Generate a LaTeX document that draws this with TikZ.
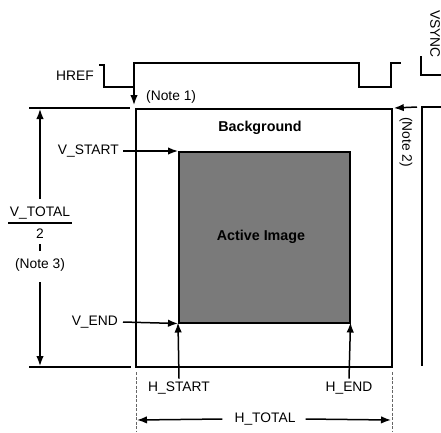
\documentclass[tikz,border=0pt]{standalone}
\usepackage{fontspec}
\setmainfont{Liberation Sans}
\usetikzlibrary{arrows.meta}
\begin{document}
\begin{tikzpicture}[x=1pt,y=-1pt,
  lbl/.style={font=\fontsize{13.8}{15}\selectfont, inner sep=0pt},
  bold/.style={font=\fontsize{14.3}{16}\selectfont\bfseries, inner sep=0pt},
  wire/.style={line width=1.6pt},
  arr/.style={line width=1.5pt, -{Latex[length=10pt,width=7.5pt]}},
  guide/.style={line width=0.8pt, dash pattern=on 3pt off 1.5pt, black!60}]
\useasboundingbox (0,0) rectangle (441,432);
% boxes
\node[draw, line width=1.8pt, minimum width=256pt, minimum height=258pt, inner sep=0pt, anchor=north west] (bg) at (135,108) {};
\node[draw, line width=1.5pt, fill=black!52, minimum width=171pt, minimum height=171pt, inner sep=0pt, anchor=north west] (act) at (178,151) {};
\node[bold] (bglbl) at (260,128) {Background};
\node[bold] (actlbl) at (261,237) {Active Image};
% HREF waveform
\node[lbl, anchor=east] (href) at (94,76) {HREF};
\draw[wire] (99,65) -- (104,65) -- (104,87) -- (134,87) -- (134,63) -- (359,63) -- (359,87) -- (391,87) -- (391,63) -- (401,63);
% VSYNC
\node[lbl, rotate=-90] (vsync) at (435,34) {VSYNC};
\draw[wire] (421,56) -- (421,75) -- (441,75);
\coordinate (vs1) at (441,107);
\draw[wire] (vs1) -- (422,107) -- (422,366);
% Note 1
\coordinate (n1s) at (134,88);
\coordinate (n1e) at (134,105);
\draw[arr] (n1s) -- (n1e);
\node[lbl, anchor=west] (note1) at (146,97) {(Note 1)};
% Note 2
\coordinate (n2s) at (417,107);
\draw[arr] (n2s) -- ([xshift=1pt]bg.north east);
\node[lbl, rotate=-90] (note2) at (406,142) {(Note 2)};
% horizontal extension lines
\coordinate (tl) at (29,108);
\coordinate (tr) at (130,108);
\coordinate (bl) at (29,367);
\coordinate (br) at (131,367);
\draw[wire] (tl) -- (tr);
\draw[wire] (bl) -- (br);
% V_TOTAL
\node[lbl] (vtot) at (40,213) {V\_TOTAL};
\draw[line width=1.1pt] (8,223) -- (72,223);
\node[lbl] (two) at (40,234) {2};
\draw[line width=1.1pt] (40,244) -- (40,251);
\node[lbl] (note3) at (40,265) {(Note 3)};
\coordinate (vt1) at (40,199);
\coordinate (vt2) at (40,282);
\draw[arr] (vt1) -- (40,109);
\draw[arr] (vt2) -- (40,366);
% V_START / V_END
\node[lbl, anchor=east] (vstart) at (119,151) {V\_START};
\draw[arr] (vstart.east) ++(4,0) coordinate (vs0) (vs0) -- (act.north west);
\node[lbl, anchor=east] (vend) at (118,322) {V\_END};
\draw[arr] (vend.east) ++(5,0) coordinate (ve0) (ve0) -- (act.south west);
% H_START / H_END
\node[lbl] (hstart) at (179,388) {H\_START};
\node[lbl] (hend) at (349,388) {H\_END};
\draw[arr] (hstart.north) ++(0,-3) coordinate (hs0) (hs0) -- ([yshift=1pt]act.south west);
\draw[arr] (hend.north) ++(0,-3) coordinate (he0) (he0) -- ([yshift=1pt]act.south east);
% H_TOTAL
\coordinate (gl1) at (136,372);
\coordinate (gl2) at (136,431);
\coordinate (gr1) at (392,372);
\coordinate (gr2) at (392,431);
\draw[guide] (gl1) -- (gl2);
\draw[guide] (gr1) -- (gr2);
\node[lbl] (htot) at (265,419) {H\_TOTAL};
\draw[arr] (htot.west) ++(-12,0) coordinate (ht1) (ht1) -- (137,420);
\draw[arr] (htot.east) ++(10,0) coordinate (ht2) (ht2) -- (391,420);
\end{tikzpicture}
\end{document}
